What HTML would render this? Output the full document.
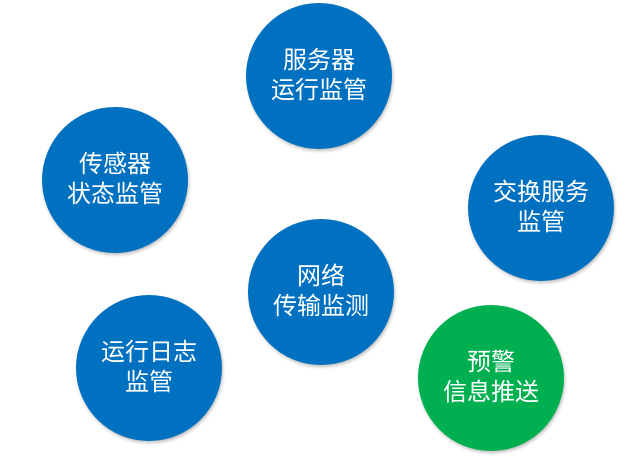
<!DOCTYPE html>
<html><head><meta charset="utf-8"><style>
html,body{margin:0;padding:0;background:#fff;width:641px;height:473px;overflow:hidden}
.c{position:absolute;width:146px;height:146px;border-radius:50%;background:#0070C0;color:#fff;display:flex;align-items:center;justify-content:center;text-align:center;font-family:"Liberation Sans","Noto Sans CJK SC",sans-serif;font-size:24px;line-height:30px;box-shadow:1px 2px 3px rgba(0,0,0,0.25)}
.g{background:#00B050}
</style></head><body>
<div class="c" style="left:246px;top:3px">服务器<br>运行监管</div>
<div class="c" style="left:42px;top:107px">传感器<br>状态监管</div>
<div class="c" style="left:468px;top:135px">交换服务<br>监管</div>
<div class="c" style="left:248px;top:219px">网络<br>传输监测</div>
<div class="c" style="left:76px;top:295px">运行日志<br>监管</div>
<div class="c g" style="left:418px;top:305px">预警<br>信息推送</div>
</body></html>
